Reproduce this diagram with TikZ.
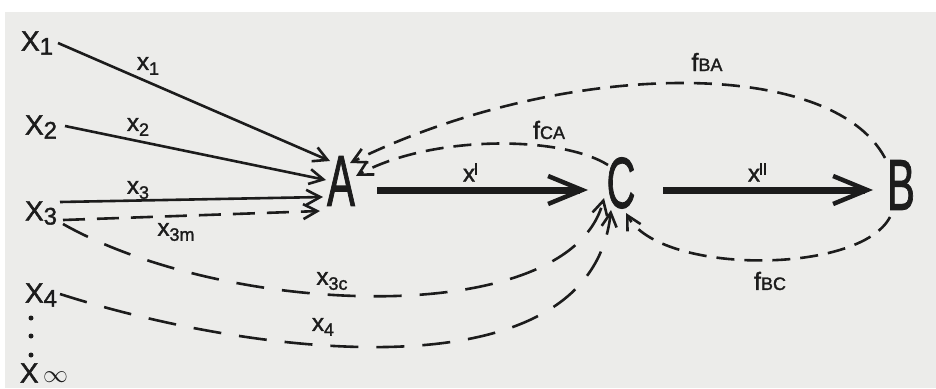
\documentclass[tikz,border=0pt]{standalone}
\usepackage{fontspec}
\usepackage{graphicx}
\setmainfont{Liberation Sans}[FakeBold=1.6]
\usetikzlibrary{arrows.meta,calc}
\definecolor{paper}{RGB}{236,236,234}
\definecolor{ink}{RGB}{28,28,28}
\newcommand{\lowsub}[1]{\raisebox{-4pt}{\fontsize{24}{24}\selectfont #1}}
\newcommand{\smsub}[1]{\raisebox{-5pt}{\fontsize{18}{18}\selectfont #1}}
\newcommand{\fsub}[1]{{\fontsize{18}{18}\selectfont #1}}
\newcommand{\primebar}{\raisebox{7pt}{\rule{2pt}{12pt}}}
\begin{document}
\begin{tikzpicture}[x=1pt,y=-1pt,
  bigl/.style={font=\fontsize{72}{72}\selectfont, inner sep=0pt, text=ink},
  srcl/.style={font=\fontsize{28}{28}\selectfont, inner sep=0pt, text=ink},
  labl/.style={font=\fontsize{24}{24}\selectfont, inner sep=0pt, text=ink},
  fl/.style={font=\fontsize{25}{25}\selectfont, inner sep=0pt, text=ink},
  thinarr/.style={draw=ink, line width=2.6pt, -{Straight Barb[length=14pt,width=15pt]}},
  thickarr/.style={draw=ink, line width=7pt, -{Straight Barb[length=34pt,width=28pt,line width=4.5pt]}},
  dshA/.style={dash pattern=on 22pt off 12pt},
  dshC/.style={dash pattern=on 28pt off 18pt},
  dshF/.style={dash pattern=on 18pt off 10pt},
]
\fill[white] (0,0) rectangle (936,388);
\fill[paper] (5,12) rectangle (936,388);
\useasboundingbox (0,0) rectangle (936,388);

% main nodes
\node[bigl] (A) at (341,181) {\scalebox{0.58}[1]{A}};
\node[bigl] (C) at (621,183) {\scalebox{0.55}[1]{C}};
\node[bigl] (B) at (901,185) {\scalebox{0.58}[1]{B}};

% sources
\node[srcl] (X1) at (37,43) {X\lowsub{1}};
\node[srcl] (X2) at (41,127) {X\lowsub{2}};
\node[srcl] (X3) at (41,213) {X\lowsub{3}};
\node[srcl] (X4) at (41,295) {X\lowsub{4}};
\node[circle, fill=ink, inner sep=0pt, minimum size=5pt] (d1) at (31,318) {};
\node[circle, fill=ink, inner sep=0pt, minimum size=5pt] (d2) at (31,336) {};
\node[circle, fill=ink, inner sep=0pt, minimum size=5pt] (d3) at (31,355) {};
\node[srcl] (Xinf) at (44,373) {X\,{\fontsize{24}{24}\selectfont$\infty$}};

% labels
\node[labl] (l1) at (148,66) {x\smsub{1}};
\node[labl] (l2) at (138,127) {x\smsub{2}};
\node[labl] (l3) at (138,190) {x\smsub{3}};
\node[labl] (l3m) at (176,232) {x\smsub{3m}};
\node[labl] (l3c) at (332,281) {x\smsub{3c}};
\node[labl] (l4) at (323,327) {x\smsub{4}};
\node[labl] (lp) at (470,172) {x\primebar};
\node[labl] (lpp) at (757,172) {x\primebar\hspace{2pt}\primebar};
\node[fl] (fca) at (549,130) {f\fsub{CA}};
\node[fl] (fba) at (707,62) {f\fsub{BA}};
\node[fl] (fbc) at (770,281) {f\fsub{BC}};

% inputs to A
\draw[thinarr] ($(X1)+(21,0)$) -- ($(A)+(-11,-20)$);
\draw[thinarr] ($(X2)+(24,-1)$) -- ($(A)+(-15,-1)$);
\draw[thinarr] ($(X3)+(19,-11)$) -- ($(A)+(-18,16)$);
\draw[thinarr,dshA] ($(X3)+(22,7)$) -- ($(A)+(-21,30)$);

% inputs to C
\draw[thinarr,dshC] ($(X3)+(22,11)$) .. controls (230,318) and (570,330) .. ($(C)+(-17,15)$);
\draw[thinarr,dshC] ($(X4)+(19,-1)$) .. controls (250,355) and (590,400) .. ($(C)+(-10,27)$);

% main flow
\draw[thickarr] ($(A)+(36,9)$) -- ($(C)+(-33,7)$);
\draw[thickarr] ($(C)+(42,7)$) -- ($(B)+(-28,5)$);

% feedback
\draw[thinarr,dshF] ($(C)+(-13,-18)$) .. controls (560,135) and (430,135) .. ($(A)+(15,-5)$);
\draw[thinarr,dshF] ($(B)+(-16,-27)$) .. controls (830,55) and (560,60) .. ($(A)+(9,-18)$);
\draw[thinarr,dshF] ($(B)+(-11,32)$) .. controls (860,275) and (660,275) .. ($(C)+(5,30)$);
\end{tikzpicture}
\end{document}
